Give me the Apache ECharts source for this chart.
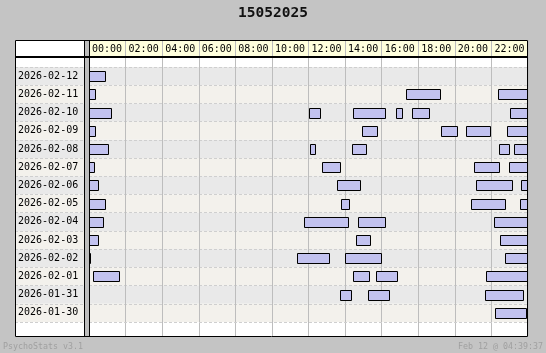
<!DOCTYPE html>
<html>
<head>
<meta charset="utf-8">
<script src="https://cdn.jsdelivr.net/npm/echarts@6/dist/echarts.min.js"></script>
<style>
html,body{margin:0;padding:0;background:#c4c4c4;}
#chart{width:546px;height:353px;}
</style>
</head>
<body>
<div id="chart"></div>
<script>
// ---- data ----
const titleText = '15052025';
const footerLeft = 'PsychoStats v3.1';
const footerRight = 'Feb 12 @ 04:39:37';
const dates = ['2026-02-12','2026-02-11','2026-02-10','2026-02-09','2026-02-08','2026-02-07','2026-02-06',
               '2026-02-05','2026-02-04','2026-02-03','2026-02-02','2026-02-01','2026-01-31','2026-01-30'];
const hourLabels = ['00:00','02:00','04:00','06:00','08:00','10:00','12:00','14:00','16:00','18:00','20:00','22:00'];

// sessions per day: [startHour, endHour]
const d0212 = [[0,0.90]];
const d0211 = [[0,0.35],[17.32,19.18],[22.35,24]];
const d0210 = [[0,1.22],[12.02,12.64],[14.43,16.20],[16.78,17.10],[17.65,18.60],[23.01,24]];
const d0209 = [[0,0.35],[14.92,15.76],[19.23,20.11],[20.60,21.91],[22.84,24]];
const d0208 = [[0,1.06],[12.08,12.37],[14.37,15.16],[22.40,22.97],[23.22,24]];
const d0207 = [[0,0.30],[12.73,13.74],[21.04,22.43],[22.95,24]];
const d0206 = [[0,0.51],[13.55,14.83],[21.15,23.14],[23.61,24]];
const d0205 = [[0,0.90],[13.77,14.23],[20.87,22.75],[23.55,24]];
const d0204 = [[0,0.79],[11.75,14.17],[14.70,16.20],[22.13,24]];
const d0203 = [[0,0.51],[14.59,15.38],[22.46,24]];
const d0202 = [[0,0.08],[11.37,13.14],[13.99,15.98],[22.73,24]];
const d0201 = [[0.22,1.64],[14.43,15.32],[15.68,16.85],[21.69,24]];
const d0131 = [[13.72,14.34],[15.25,16.42],[21.64,23.74]];
const d0130 = [[22.19,23.90]];
const rowSessions = [d0212,d0211,d0210,d0209,d0208,d0207,d0206,d0205,d0204,d0203,d0202,d0201,d0131,d0130];

// ---- build ----
const seriesData = [];
rowSessions.forEach((list, r) => list.forEach(s => seriesData.push([r, s[0], s[1]])));

const MONO = '"DejaVu Sans Mono", "Liberation Mono", monospace';
const gridLineColor = '#bdbdbd';
const rowColors = ['#e9e9e9', '#f3f1ec'];
const dashStyle = {color:'#cfcfcf', width:1, type:[3,2]};

const chart = echarts.init(document.getElementById('chart'), null, {renderer:'canvas'});

const hiddenVal = (g) => ({gridIndex:g, type:'value', show:false, min:0, max:1});
const timeAxisBase = (g) => ({
  gridIndex:g, type:'value', min:0, max:24, interval:2,
  axisLine:{show:false}, axisTick:{show:false}, axisLabel:{show:false},
  splitLine:{show:true, lineStyle:{color:gridLineColor, width:1}}
});

chart.setOption({
  animation:false,
  backgroundColor:'#c4c4c4',
  grid:[
    {left:15, top:67, width:70, height:255},   // 0 label rows
    {left:89, top:40, width:439, height:16},   // 1 header
    {left:89, top:57, width:439, height:279},  // 2 body (full)
    {left:89, top:67, width:439, height:255}   // 3 rows
  ],
  xAxis:[
    {gridIndex:0, type:'value', show:false, min:0, max:1},
    Object.assign(timeAxisBase(1), {
      position:'top', z:2,
      axisLabel:{show:true, inside:true, margin:9, align:'left', verticalAlign:'middle',
        padding:[0,0,0,3], fontFamily:MONO, fontSize:10, color:'#000',
        showMaxLabel:false,
        formatter:(v)=> hourLabels[Math.round(v/2)] || ''}
    }),
    Object.assign(timeAxisBase(2), {z:1}),
    Object.assign(timeAxisBase(3), {z:3})
  ],
  yAxis:[
    {gridIndex:0, type:'category', data:dates, inverse:true, z:1,
     axisLine:{show:false}, axisTick:{show:false},
     axisLabel:{inside:true, margin:3, fontFamily:MONO, fontSize:10, color:'#000'},
     splitArea:{show:true, areaStyle:{color:rowColors}},
     splitLine:{show:true, lineStyle:dashStyle}},
    hiddenVal(1),
    hiddenVal(2),
    {gridIndex:3, type:'category', data:dates, inverse:true, z:2,
     axisLine:{show:false}, axisTick:{show:false}, axisLabel:{show:false},
     splitArea:{show:true, areaStyle:{color:rowColors}},
     splitLine:{show:true, lineStyle:dashStyle}}
  ],
  series:[{
    type:'custom', xAxisIndex:3, yAxisIndex:3, z:5, clip:true,
    encode:{x:[1,2], y:0},
    data:seriesData,
    renderItem:(params, api)=>{
      const r = api.value(0);
      const p0 = api.coord([api.value(1), r]);
      const p1 = api.coord([api.value(2), r]);
      const h = 10;
      const x0 = Math.round(p0[0]) + 0.5;
      const x1 = Math.round(p1[0]) + 0.5;
      const y0 = Math.round(p0[1] - h/2) + 0.5;
      return {type:'rect', shape:{x:x0, y:y0, width:Math.max(x1-x0,1), height:h},
        style:{fill:'#c2c2ef', stroke:'#000', lineWidth:1}};
    }
  }],
  graphic:[
    // backgrounds
    {type:'rect', z:-10, silent:true, shape:{x:15, y:40, width:513, height:297}, style:{fill:'#ffffff'}},
    {type:'rect', z:-9, silent:true, shape:{x:89, y:40, width:439, height:17}, style:{fill:'#ffffdd'}},
    // separator strip
    {type:'rect', z:90, silent:true, shape:{x:85, y:41, width:4, height:295}, style:{fill:'#bdbdbd'}},
    // borders
    {type:'rect', z:100, silent:true, shape:{x:15.5, y:40.5, width:512, height:296}, style:{fill:null, stroke:'#000', lineWidth:1}},
    {type:'rect', z:100, silent:true, shape:{x:15, y:56, width:513, height:2}, style:{fill:'#000'}},
    {type:'line', z:100, silent:true, shape:{x1:84.5, y1:40, x2:84.5, y2:337}, style:{stroke:'#000', lineWidth:1}},
    {type:'line', z:100, silent:true, shape:{x1:89.5, y1:40, x2:89.5, y2:337}, style:{stroke:'#000', lineWidth:1}},
    // texts
    {type:'text', z:100, silent:true, x:273, y:13, style:{text:titleText, fontFamily:MONO, fontWeight:'bold', fontSize:14.5, fill:'#111', align:'center', verticalAlign:'middle'}},
    {type:'text', z:100, silent:true, x:3, y:346.5, style:{text:footerLeft, fontFamily:MONO, fontSize:8.3, fill:'#a0a0a0', align:'left', verticalAlign:'middle'}},
    {type:'text', z:100, silent:true, x:543, y:346.5, style:{text:footerRight, fontFamily:MONO, fontSize:8.3, fill:'#a0a0a0', align:'right', verticalAlign:'middle'}}
  ]
});
</script>
</body>
</html>
